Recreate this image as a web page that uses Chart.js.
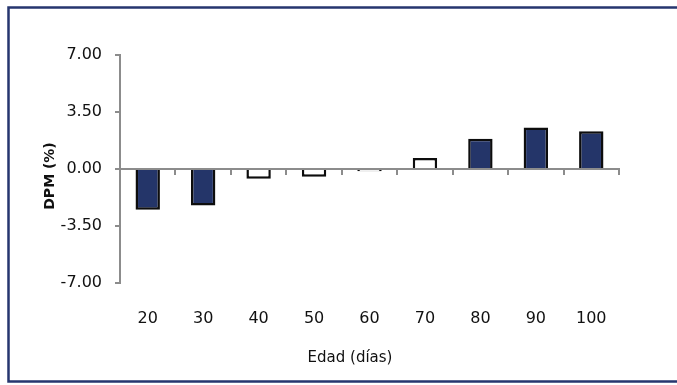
<!DOCTYPE html>
<html>
<head>
<meta charset="utf-8">
<script src="https://cdn.jsdelivr.net/npm/chart.js@4/dist/chart.umd.min.js"></script>
<style>
  html, body { margin: 0; padding: 0; background: #ffffff; }
  canvas { display: block; }
</style>
</head>
<body>
<canvas id="c" width="677" height="385"></canvas>
<script>
// ---- data ----
const categories = ['20', '30', '40', '50', '60', '70', '80', '90', '100'];
const dpmValues = [-2.50, -2.24, -0.60, -0.48, -0.14, 0.67, 1.85, 2.55, 2.32];
const filledBar = [true, true, false, false, false, false, true, true, true];
const yTickValues = [-7, -3.5, 0, 3.5, 7];
const xTitle = 'Edad (días)';
const yTitle = 'DPM (%)';

// ---- styles ----
const NAVY = '#243569';
const AXIS = '#8c8c8c';
const FONT = 'DejaVu Sans';

const framePlugin = {
  id: 'frameAndTitles',
  beforeDraw(chart) {
    const ctx = chart.ctx;
    ctx.save();
    ctx.fillStyle = '#ffffff';
    ctx.fillRect(0, 0, chart.width, chart.height);
    ctx.restore();
  },
  afterDraw(chart) {
    const ctx = chart.ctx;
    const ca = chart.chartArea;
    ctx.save();
    ctx.strokeStyle = '#26366f';
    ctx.lineWidth = 2.5;
    ctx.beginPath();
    ctx.moveTo(chart.width, 7.5);
    ctx.lineTo(8.5, 7.5);
    ctx.lineTo(8.5, 381.5);
    ctx.lineTo(chart.width, 381.5);
    ctx.stroke();
    ctx.fillStyle = '#111111';
    ctx.textAlign = 'center';
    ctx.textBaseline = 'middle';
    ctx.font = '15px "' + FONT + '"';
    ctx.fillText(xTitle, ca.left + 230, ca.bottom + 75);
    ctx.translate(ca.left - 70, ca.top + 121);
    ctx.rotate(-Math.PI / 2);
    ctx.font = 'bold 14px "' + FONT + '"';
    ctx.fillText(yTitle, 0, 0);
    ctx.restore();
  }
};

new Chart(document.getElementById('c'), {
  type: 'bar',
  data: {
    labels: categories,
    datasets: [{
      data: dpmValues,
      backgroundColor: filledBar.map(f => f ? NAVY : '#ffffff'),
      borderColor: '#0d0d0d',
      borderWidth: 2.5,
      categoryPercentage: 1,
      barPercentage: 0.44,
      xAxisID: 'x',
      yAxisID: 'y'
    }]
  },
  options: {
    responsive: false,
    animation: false,
    devicePixelRatio: 1,
    layout: { padding: { top: 55, right: 58, bottom: 59, left: 60 } },
    plugins: { legend: { display: false }, tooltip: { enabled: false } },
    scales: {
      x: {
        type: 'category',
        position: 'bottom',
        offset: true,
        grid: { display: false, drawTicks: false, offset: true },
        border: { display: false },
        ticks: { padding: 26, color: '#111111', font: { family: FONT, size: 16 } },
        afterFit(s) { s.height = 43; }
      },
      x0: {
        type: 'category',
        labels: categories,
        position: { y: 0 },
        offset: true,
        z: 1,
        grid: { drawOnChartArea: false, drawTicks: true, tickLength: 5, color: AXIS, lineWidth: 2, offset: true },
        border: { display: true, color: AXIS, width: 2 },
        ticks: { display: false }
      },
      y: {
        type: 'linear',
        position: 'left',
        min: -7,
        max: 7,
        afterBuildTicks(s) { s.ticks = yTickValues.map(v => ({ value: v })); },
        grid: { drawOnChartArea: false, drawTicks: true, tickLength: 5, color: AXIS, lineWidth: 2 },
        border: { display: true, color: AXIS, width: 2 },
        ticks: {
          padding: 13,
          color: '#111111',
          font: { family: FONT, size: 16 },
          callback: v => Number(v).toFixed(2)
        },
        afterFit(s) { s.width = 60; }
      }
    }
  },
  plugins: [framePlugin]
});
</script>
</body>
</html>
